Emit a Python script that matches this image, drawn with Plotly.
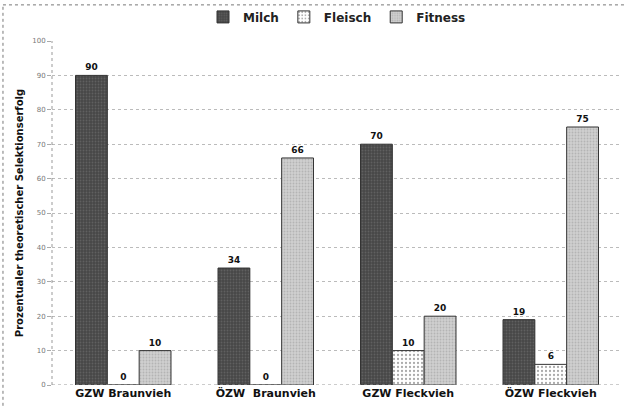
import plotly.graph_objects as go

categories = ["GZW Braunvieh", "ÖZW  Braunvieh", "GZW Fleckvieh", "ÖZW Fleckvieh"]
milch = [90, 34, 70, 19]
fleisch = [0, 0, 10, 6]
fitness = [10, 66, 20, 75]
y_ticks = [0, 10, 20, 30, 40, 50, 60, 70, 80, 90, 100]

FONT = "DejaVu Sans"

fig = go.Figure()
series = [
    ("Milch", milch, "#474747", dict(shape=".", fgcolor="#7a7a7a", bgcolor="#474747", size=3, solidity=0.3)),
    ("Fleisch", fleisch, "#ffffff", dict(shape=".", fgcolor="#555555", bgcolor="#ffffff", size=4, solidity=0.25)),
    ("Fitness", fitness, "#bdbdbd", dict(shape=".", fgcolor="#999999", bgcolor="#cfcfcf", size=3, solidity=0.3)),
]
for name, vals, col, pat in series:
    fig.add_trace(go.Bar(
        name=name, x=categories, y=vals,
        marker=dict(color=col, line=dict(color="#333333", width=1), pattern=pat),
        text=[str(v) for v in vals], textposition="outside",
        textfont=dict(family=FONT, size=9, color="#111111", weight="bold"),
        cliponaxis=False,
    ))

fig.update_layout(
    width=624, height=408,
    margin=dict(l=52, r=2, t=41, b=23),
    paper_bgcolor="white", plot_bgcolor="white",
    barmode="group", bargap=0.33, bargroupgap=0,
    font=dict(family=FONT, color="#222222"),
    legend=dict(orientation="h", x=0.5, xanchor="center", y=1.07, yanchor="middle",
                font=dict(family=FONT, size=12, color="#222222", weight="bold"),
                itemwidth=30, traceorder="normal", bgcolor="rgba(0,0,0,0)",
                tracegroupgap=0),
    showlegend=True,
)
fig.update_yaxes(
    range=[0, 100], tickvals=y_ticks, ticktext=[str(v) for v in y_ticks],
    showgrid=True, gridcolor="#bbbbbb", griddash="dot", gridwidth=1,
    zeroline=False, showline=False,
    ticks="outside", ticklen=4, tickcolor="#aaaaaa",
    tickfont=dict(family=FONT, size=7, color="#777777"),
    title=dict(text="Prozentualer theoretischer Selektionserfolg",
               font=dict(family=FONT, size=10, color="#111111", weight="bold"), standoff=6),
)
fig.update_xaxes(
    showline=False, showgrid=False, ticks="",
    tickfont=dict(family=FONT, size=11, color="#111111", weight="bold"),
)
fig.add_shape(type="line", xref="paper", yref="paper", x0=0, x1=0, y0=0, y1=1,
              line=dict(color="#999999", width=1, dash="dot"))
fig.add_shape(type="line", xref="paper", yref="y", x0=0, x1=1, y0=0, y1=0,
              line=dict(color="#999999", width=1, dash="dot"))
# outer chart border (left and top edges visible)
fig.add_shape(type="line", xref="paper", yref="paper", x0=-0.086, x1=-0.086, y0=-0.2, y1=1.105,
              line=dict(color="#777777", width=1, dash="dot"))
fig.add_shape(type="line", xref="paper", yref="paper", x0=-0.086, x1=1.1, y0=1.105, y1=1.105,
              line=dict(color="#777777", width=1, dash="dot"))

fig.write_html("out.html", config={"displayModeBar": False},
               post_script="document.body.style.margin='0';")
